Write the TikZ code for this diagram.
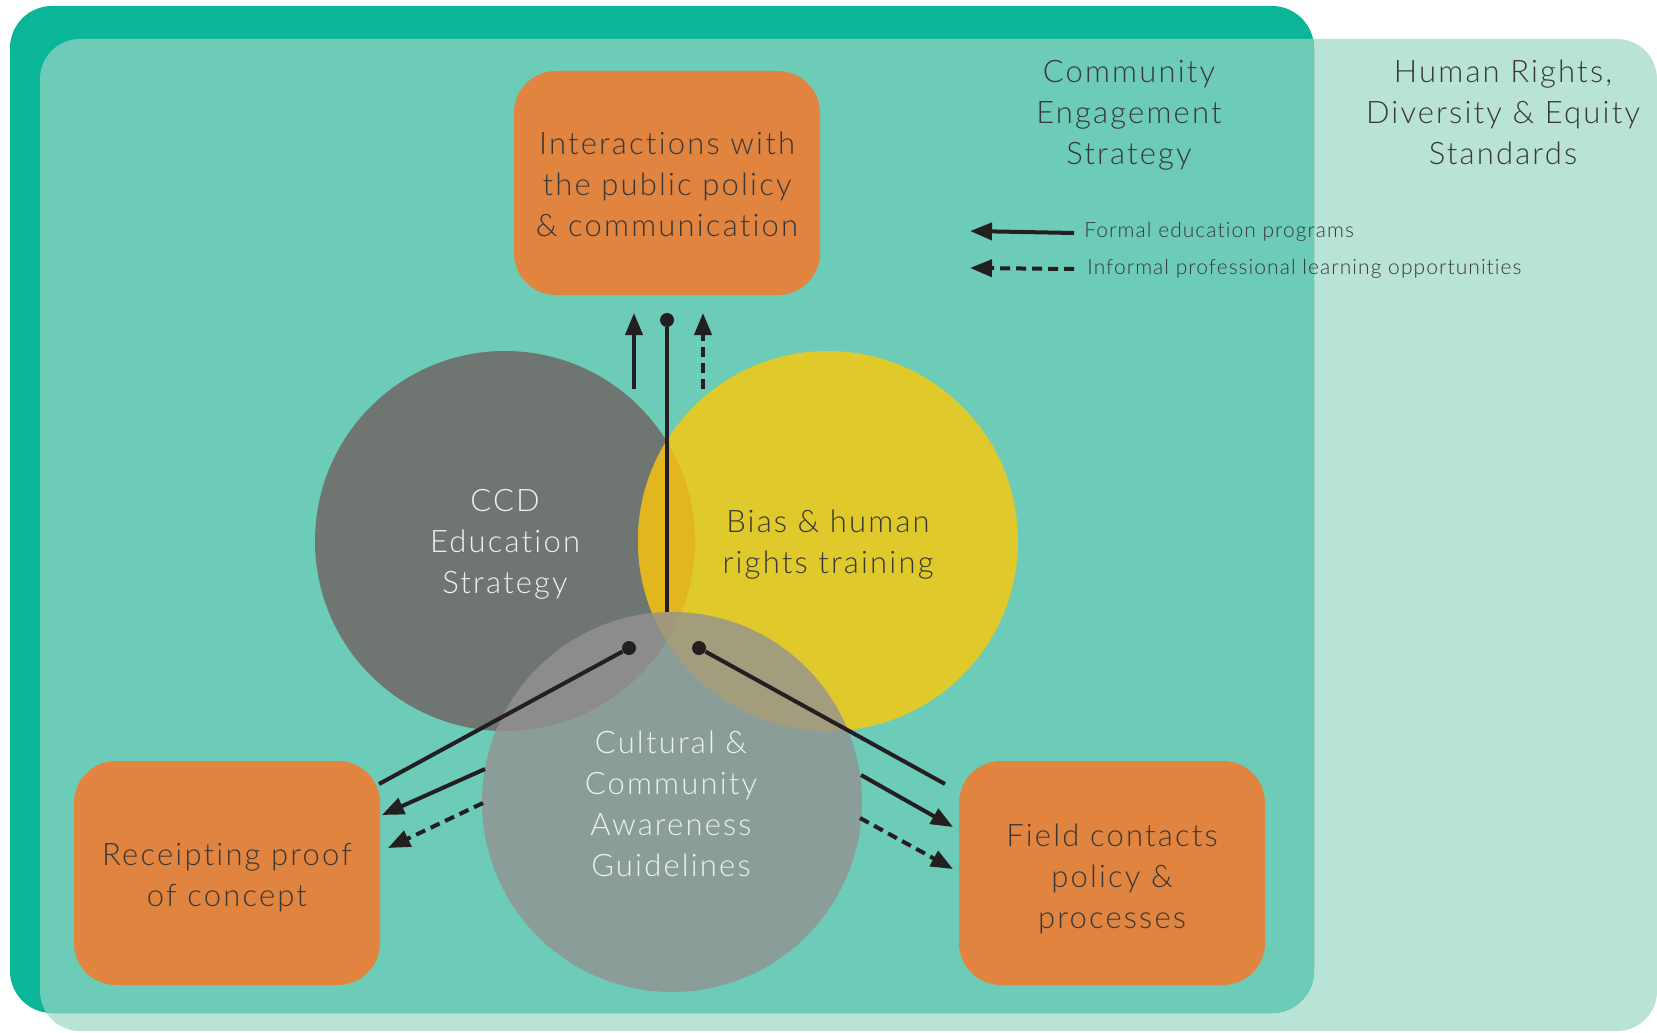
\documentclass[tikz,border=0pt]{standalone}
\usepackage{fontspec}
\setmainfont{Lato}[UprightFont={* Light}]
\newfontfamily\widefont{Lato}[UprightFont={* Light}, LetterSpace=7, Ligatures=NoCommon]
\newfontfamily\legendfont{Lato}[UprightFont={* Light}, LetterSpace=5, Ligatures=NoCommon]
\usetikzlibrary{arrows.meta}
\definecolor{cesgreen}{HTML}{0BB597}
\definecolor{cesmid}{HTML}{6DCCB7}
\definecolor{hrlight}{HTML}{BAE3D8}
\definecolor{boxorange}{HTML}{E0843F}
\definecolor{ccdgrey}{HTML}{6F7570}
\definecolor{biasyellow}{HTML}{E0C92B}
\definecolor{lensgold}{HTML}{E2B61F}
\definecolor{cultgrey}{HTML}{929292}
\definecolor{txtdark}{HTML}{383838}
\definecolor{txtlight}{HTML}{EEF1EF}
\definecolor{ink}{HTML}{231F20}
\tikzset{box/.style={rounded corners=21pt, fill=boxorange, minimum width=153pt, minimum height=112pt}}
\tikzset{boxtxt/.style={align=center, text=txtdark, font=\widefont\fontsize{15.5}{20.5}\selectfont}}
\tikzset{circ/.style={circle, minimum size=190pt, inner sep=0pt}}
\tikzset{heading/.style={boxtxt}}
\tikzset{legend/.style={anchor=west, inner sep=0pt, text=txtdark, font=\legendfont\fontsize{10.5}{13}\selectfont}}
\tikzset{dot/.style={circle, fill=ink, minimum size=7pt, inner sep=0pt}}
\tikzset{link/.style={draw=ink, line width=2pt}}
\tikzset{formal/.style={link, -{Triangle[length=11pt,width=8.5pt]}}}
\tikzset{informal/.style={formal, dash pattern=on 5pt off 3pt}}

\begin{document}
\begin{tikzpicture}[x=0.5pt,y=-0.5pt]
\useasboundingbox (0,0) rectangle (1657,1032);
\fill[hrlight, rounded corners=20pt] (40,39) rectangle (1657,1031);
\fill[cesgreen, rounded corners=21pt] (10,6) rectangle (1314,1013);
\begin{scope}
  \clip[rounded corners=21pt] (10,6) rectangle (1314,1013);
  \fill[cesmid, rounded corners=20pt] (40,39) rectangle (1657,1031);
\end{scope}

\node[heading] (ces) at (1129,115) {Community\\Engagement\\Strategy};
\node[heading] (hrd) at (1503,112) {Human Rights,\\Diversity \& Equity\\Standards};

\node[box] (inter) at (667,183) {};
\node[box] (recpt) at (227,873) {};
\node[box] (field) at (1112,873) {};
\node[boxtxt] (intertxt) at (667,184) {Interactions with\\the public policy\\\& communication};
\node[boxtxt] (recpttxt) at (227,878) {Receipting proof\\of concept};
\node[boxtxt] (fieldtxt) at (1112,879) {Field contacts\\policy \&\\processes};

\node[circ, fill=ccdgrey] (ccd) at (505,541) {};
\node[circ, fill=biasyellow] (bias) at (828,541) {};
\begin{scope}
  \clip (ccd.center) circle[radius=95pt];
  \fill[lensgold] (bias.center) circle[radius=95pt];
\end{scope}
\node[circ, fill=cultgrey, fill opacity=0.8] (cult) at (672,802) {};
\node[boxtxt, text=txtlight] (ccdtxt) at (505,544) {CCD\\Education\\Strategy};
\node[boxtxt] (biastxt) at (828,545) {Bias \& human\\rights training};
\node[boxtxt, text=txtlight] (culttxt) at (671,804) {Cultural \&\\Community\\Awareness\\Guidelines};

\node[dot] (tdot) at (667,320) {};
\node[dot] (ldot) at (629,648) {};
\node[dot] (rdot) at (699,648) {};
\coordinate (tbase) at (667,612);
\coordinate (lend) at (379,784);
\coordinate (rend) at (945,784);
\draw[link] (tdot) -- (tbase);
\draw[link] (ldot) -- (lend);
\draw[link] (rdot) -- (rend);

\coordinate (tf1) at (634,389); \coordinate (tf2) at (634,313);
\coordinate (ti1) at (703,389); \coordinate (ti2) at (703,313);
\coordinate (lf1) at (485,769); \coordinate (lf2) at (382,815);
\coordinate (li1) at (483,803); \coordinate (li2) at (388,848);
\coordinate (rf1) at (861,775); \coordinate (rf2) at (953,827);
\coordinate (ri1) at (860,818); \coordinate (ri2) at (953,869);
\draw[formal] (tf1) -- (tf2);
\draw[informal] (ti1) -- (ti2);
\draw[formal] (lf1) -- (lf2);
\draw[informal] (li1) -- (li2);
\draw[formal] (rf1) -- (rf2);
\draw[informal] (ri1) -- (ri2);

\node[legend] (lgf) at (1084,232) {Formal education programs};
\node[legend] (lgi) at (1087,269) {Informal professional learning opportunities};
\coordinate (lgf1) at (1074,233); \coordinate (lgf2) at (970,231);
\coordinate (lgi1) at (1074,269); \coordinate (lgi2) at (970,268);
\draw[formal] (lgf1) -- (lgf2);
\draw[informal] (lgi1) -- (lgi2);
\end{tikzpicture}
\end{document}
